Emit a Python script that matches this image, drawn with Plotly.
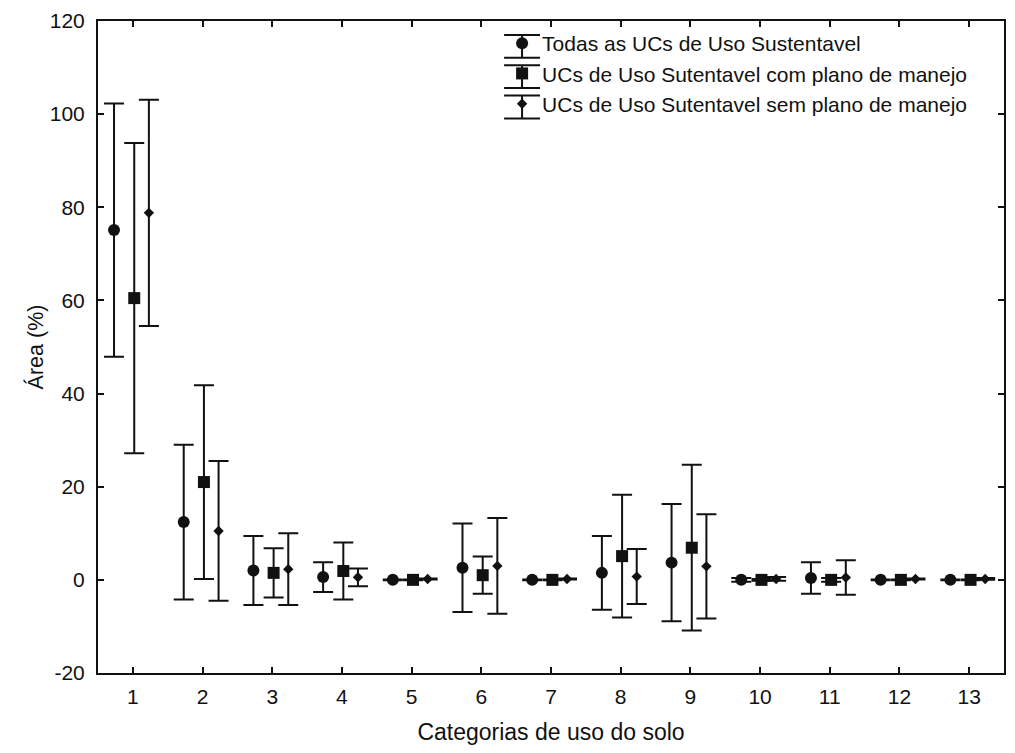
import numpy as np
import plotly.graph_objects as go

categories = list(range(1, 14))
series_names = [
    "Todas as UCs de Uso Sustentavel",
    "UCs de Uso Sutentavel com plano de manejo",
    "UCs de Uso Sutentavel sem plano de manejo",
]
todas_mean = [75.1, 12.4, 2.0, 0.6, 0.0, 2.6, 0.0, 1.5, 3.7, 0.0, 0.4, 0.0, 0.0]
todas_err = [27.2, 16.6, 7.4, 3.2, 0.1, 9.5, 0.1, 7.9, 12.6, 0.4, 3.4, 0.1, 0.1]
com_mean = [60.5, 21.0, 1.5, 1.9, 0.0, 1.0, 0.0, 5.1, 6.9, 0.0, 0.0, 0.0, 0.0]
com_err = [33.3, 20.8, 5.3, 6.1, 0.1, 4.0, 0.1, 13.2, 17.8, 0.2, 0.4, 0.1, 0.1]
sem_mean = [78.8, 10.5, 2.3, 0.55, 0.2, 3.0, 0.2, 0.7, 2.9, 0.2, 0.5, 0.2, 0.2]
sem_err = [24.3, 15.0, 7.7, 1.9, 0.1, 10.3, 0.1, 5.9, 11.2, 0.4, 3.7, 0.1, 0.2]
y_ticks = [-20, 0, 20, 40, 60, 80, 100, 120]
y_ticklabels = ["-20", "0", "20", "40", "60", "80", "100", "120"]

means = [todas_mean, com_mean, sem_mean]
errs = [todas_err, com_err, sem_err]
offsets = [-0.27, 0.02, 0.23]
symbols = ["circle", "square", "diamond"]
sizes = [12, 12, 8]

FONT = "Liberation Sans, Arial, sans-serif"
INK = "#111111"

# figure geometry (page has an 8px body margin)
W, H = 999, 737
ML, MR, MT, MB = 90, 1, 9, 72
PW, PH = W - ML - MR, H - MT - MB


def px(xp):
    return (xp - 8 - ML) / PW


def py(yp):
    return (H - MB - (yp - 8)) / PH


fig = go.Figure()
for i in range(3):
    x = np.array(categories, dtype=float) + offsets[i]
    fig.add_trace(go.Scatter(
        x=x, y=means[i], mode="markers", name=series_names[i],
        marker=dict(symbol=symbols[i], size=sizes[i], color=INK, line=dict(width=0)),
        error_y=dict(type="data", array=errs[i], symmetric=True,
                     color=INK, thickness=2, width=10),
    ))

# legend geometry (page pixels)
leg_left = 503
leg_top = 19
row_h = 30.5
marker_x = leg_left + 20
shapes = []
for k in range(3):
    cy = leg_top + 23.5 + k * row_h
    y0, y1 = cy - 11.5, cy + 11.5
    line = dict(color=INK, width=2)
    shapes.append(dict(type="line", xref="paper", yref="paper",
                       x0=px(marker_x), x1=px(marker_x), y0=py(y0), y1=py(y1), line=line))
    for yy in (y0, y1):
        shapes.append(dict(type="line", xref="paper", yref="paper",
                           x0=px(marker_x - 18), x1=px(marker_x + 18), y0=py(yy), y1=py(yy), line=line))

fig.update_layout(
    width=W, height=H,
    paper_bgcolor="white", plot_bgcolor="white",
    margin=dict(l=ML, r=MR, t=MT, b=MB),
    font=dict(family=FONT, size=21, color=INK),
    showlegend=True,
    legend=dict(x=px(leg_left), y=py(leg_top), xanchor="left", yanchor="top",
                bgcolor="rgba(0,0,0,0)", font=dict(size=21, color=INK),
                tracegroupgap=0, borderwidth=0),
    shapes=shapes,
)
fig.update_xaxes(
    range=[0.5, 13.5], tickvals=categories, ticktext=[str(c) for c in categories],
    ticks="inside", ticklen=6, tickwidth=1.5, tickcolor=INK,
    showline=True, linecolor=INK, linewidth=2, mirror="ticks",
    showgrid=False, zeroline=False,
    tickfont=dict(size=21), ticklabelstandoff=4,
    title=dict(text="Categorias de uso do solo", font=dict(size=23), standoff=18),
)
fig.update_yaxes(
    range=[-20, 120], tickvals=y_ticks, ticktext=y_ticklabels,
    ticks="inside", ticklen=6, tickwidth=1.5, tickcolor=INK,
    showline=True, linecolor=INK, linewidth=2, mirror="ticks",
    showgrid=False, zeroline=False,
    tickfont=dict(size=21), ticklabelstandoff=7, ticklabeloverflow="allow",
    title=dict(text="Área (%)", font=dict(size=21.5), standoff=0),
)

fig.write_html("out.html")
